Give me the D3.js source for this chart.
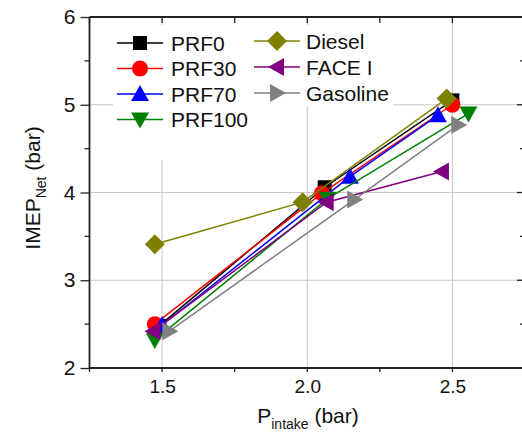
<!DOCTYPE html>
<html>
<head>
<meta charset="utf-8">
<script src="https://cdn.jsdelivr.net/npm/d3@7"></script>
<style>
  html, body { margin: 0; padding: 0; background: #fff; }
  svg { display: block; font-family: "Liberation Sans", Arial, sans-serif; }
</style>
</head>
<body>
<svg id="chart" width="522" height="437"></svg>
<script>
// Intake pressure (bar) and net IMEP (bar) for each fuel
const prf0X     = [1.49, 2.06, 2.50];
const prf0Y     = [2.48, 4.06, 5.05];
const prf30X    = [1.475, 2.05, 2.50];
const prf30Y    = [2.50, 3.99, 5.00];
const prf70X    = [1.50, 2.147, 2.45];
const prf70Y    = [2.49, 4.18, 4.88];
const prf100X   = [1.475, 2.07, 2.555];
const prf100Y   = [2.32, 3.93, 4.90];
const dieselX   = [1.475, 1.984, 2.48];
const dieselY   = [3.41, 3.89, 5.07];
const face1X    = [1.47, 2.067, 2.464];
const face1Y    = [2.42, 3.89, 4.24];
const gasolineX = [1.525, 2.162, 2.52];
const gasolineY = [2.42, 3.92, 4.77];

const seriesNames = ["PRF0", "PRF30", "PRF70", "PRF100", "Diesel", "FACE I", "Gasoline"];
const xTicks = [1.5, 2.0, 2.5];
const yTicks = [2, 3, 4, 5, 6];

const series = [
  { name: "PRF0",     xs: prf0X,     ys: prf0Y,     color: "#000000", shape: "square" },
  { name: "PRF30",    xs: prf30X,    ys: prf30Y,    color: "#ff0000", shape: "circle" },
  { name: "PRF70",    xs: prf70X,    ys: prf70Y,    color: "#0000ff", shape: "up" },
  { name: "PRF100",   xs: prf100X,   ys: prf100Y,   color: "#008000", shape: "down" },
  { name: "Diesel",   xs: dieselX,   ys: dieselY,   color: "#808000", shape: "diamond" },
  { name: "FACE I",   xs: face1X,    ys: face1Y,    color: "#800080", shape: "left" },
  { name: "Gasoline", xs: gasolineX, ys: gasolineY, color: "#808080", shape: "right" }
];

const svg = d3.select("#chart");
const pL = 89.5, pR = 525, pT = 17, pB = 368;

const x = d3.scaleLinear().domain([1.25, 2.75]).range([pL, pR]);
const y = d3.scaleLinear().domain([2, 6]).range([pB, pT]);

// grid lines
const grid = svg.append("g").attr("stroke", "#c8c8c8").attr("stroke-width", 1);
xTicks.forEach(v => grid.append("line")
  .attr("x1", x(v)).attr("x2", x(v)).attr("y1", pT).attr("y2", pB));
[3, 4, 5].forEach(v => grid.append("line")
  .attr("x1", pL).attr("x2", pR).attr("y1", y(v)).attr("y2", y(v)));

// legend backgrounds hide the grid behind them
svg.append("rect").attr("x", 113).attr("y", 25).attr("width", 140).attr("height", 135).attr("fill", "#fff");
svg.append("rect").attr("x", 245).attr("y", 25).attr("width", 148).attr("height", 82).attr("fill", "#fff");

// axes
const axisColor = "#222";
const minorX = d3.range(1.25, 2.76, 0.25);
const minorY = d3.range(2, 6.01, 0.5);

const bottomAxis = svg.append("g").attr("transform", `translate(0,${pB})`)
  .call(d3.axisBottom(x).tickValues(xTicks).tickFormat(d3.format(".1f")).tickSize(0).tickPadding(12));
bottomAxis.selectAll("text").attr("font-size", 19).attr("fill", "#111");
svg.append("g").selectAll("line").data(minorX).join("line")
  .attr("x1", d => x(d)).attr("x2", d => x(d)).attr("y1", pB).attr("y2", pB + 4)
  .attr("stroke", axisColor).attr("stroke-width", 1.3);

const leftAxis = svg.append("g").attr("transform", `translate(${pL},0)`)
  .call(d3.axisLeft(y).tickValues(yTicks).tickFormat(d3.format("d")).tickSize(9).tickPadding(5));
leftAxis.selectAll("text").attr("font-size", 21).attr("fill", "#111");
leftAxis.selectAll(".tick line").attr("stroke", axisColor).attr("stroke-width", 1.3);
svg.append("g").selectAll("line").data(minorY.filter(v => !yTicks.includes(v))).join("line")
  .attr("x1", pL - 5).attr("x2", pL).attr("y1", d => y(d)).attr("y2", d => y(d))
  .attr("stroke", axisColor).attr("stroke-width", 1.3);

// top and right frame with inward ticks
svg.append("g").selectAll("line").data(minorX).join("line")
  .attr("x1", d => x(d)).attr("x2", d => x(d)).attr("y1", pT).attr("y2", pT + 6)
  .attr("stroke", axisColor).attr("stroke-width", 1.3);
svg.append("g").selectAll("line").data(minorY).join("line")
  .attr("x1", d => yTicks.includes(d) ? pR - 8 : pR - 5).attr("x2", pR)
  .attr("y1", d => y(d)).attr("y2", d => y(d))
  .attr("stroke", axisColor).attr("stroke-width", 1.3);

svg.selectAll(".domain").remove();
const frame = svg.append("g").attr("stroke", axisColor).attr("stroke-width", 1.8).attr("fill", "none");
frame.append("line").attr("x1", pL).attr("x2", pR).attr("y1", pT).attr("y2", pT);
frame.append("line").attr("x1", pL).attr("x2", pR).attr("y1", pB).attr("y2", pB);
frame.append("line").attr("x1", pL).attr("x2", pL).attr("y1", pT).attr("y2", pB);
frame.append("line").attr("x1", pR).attr("x2", pR).attr("y1", pT).attr("y2", pB);

// marker shapes
function markerPath(shape) {
  switch (shape) {
    case "square":  return "M-7,-7H7V7H-7Z";
    case "circle":  return d3.symbol(d3.symbolCircle, 200)();
    case "up":      return "M0,-9L9,7H-9Z";
    case "down":    return "M0,9L9,-7H-9Z";
    case "diamond": return "M0,-10L10,0L0,10L-10,0Z";
    case "left":    return "M-9,0L7,-9V9Z";
    case "right":   return "M9,0L-7,-9V9Z";
  }
}

const line = d3.line().x(d => x(d[0])).y(d => y(d[1]));
const plot = svg.append("g");
series.forEach(s => {
  const pts = s.xs.map((v, i) => [v, s.ys[i]]);
  plot.append("path").attr("d", line(pts)).attr("fill", "none")
    .attr("stroke", s.color).attr("stroke-width", 1.5);
  plot.append("g").selectAll("path").data(pts).join("path")
    .attr("transform", d => `translate(${x(d[0])},${y(d[1])})`)
    .attr("d", markerPath(s.shape)).attr("fill", s.color);
});

// legends
function legendItem(g, s, lx, ly, tx) {
  g.append("line").attr("x1", lx - 23).attr("x2", lx + 23).attr("y1", ly).attr("y2", ly)
    .attr("stroke", s.color).attr("stroke-width", 1.5);
  g.append("path").attr("transform", `translate(${lx},${ly})`)
    .attr("d", markerPath(s.shape)).attr("fill", s.color);
  g.append("text").attr("x", tx).attr("y", ly + 7.5).attr("font-size", 21)
    .attr("fill", "#111").text(s.name);
}
const leg = svg.append("g");
const col1 = seriesNames.slice(0, 4), col2 = seriesNames.slice(4);
col1.forEach((n, i) => legendItem(leg, series.find(s => s.name === n), 140, 43 + i * 25.5, 171));
col2.forEach((n, i) => legendItem(leg, series.find(s => s.name === n), 277, 41 + i * 26, 306));

// axis titles
const xt = svg.append("text").attr("x", 308).attr("y", 423).attr("text-anchor", "middle")
  .attr("font-size", 21).attr("fill", "#111");
xt.append("tspan").text("P");
xt.append("tspan").attr("font-size", 14).attr("dy", 6).text("intake");
xt.append("tspan").attr("dy", -6).text(" (bar)");

const yt = svg.append("text").attr("transform", "translate(40,188) rotate(-90)")
  .attr("text-anchor", "middle").attr("font-size", 21).attr("fill", "#111");
yt.append("tspan").text("IMEP");
yt.append("tspan").attr("font-size", 14).attr("dy", 6).text("Net");
yt.append("tspan").attr("dy", -6).text(" (bar)");
</script>
</body>
</html>
